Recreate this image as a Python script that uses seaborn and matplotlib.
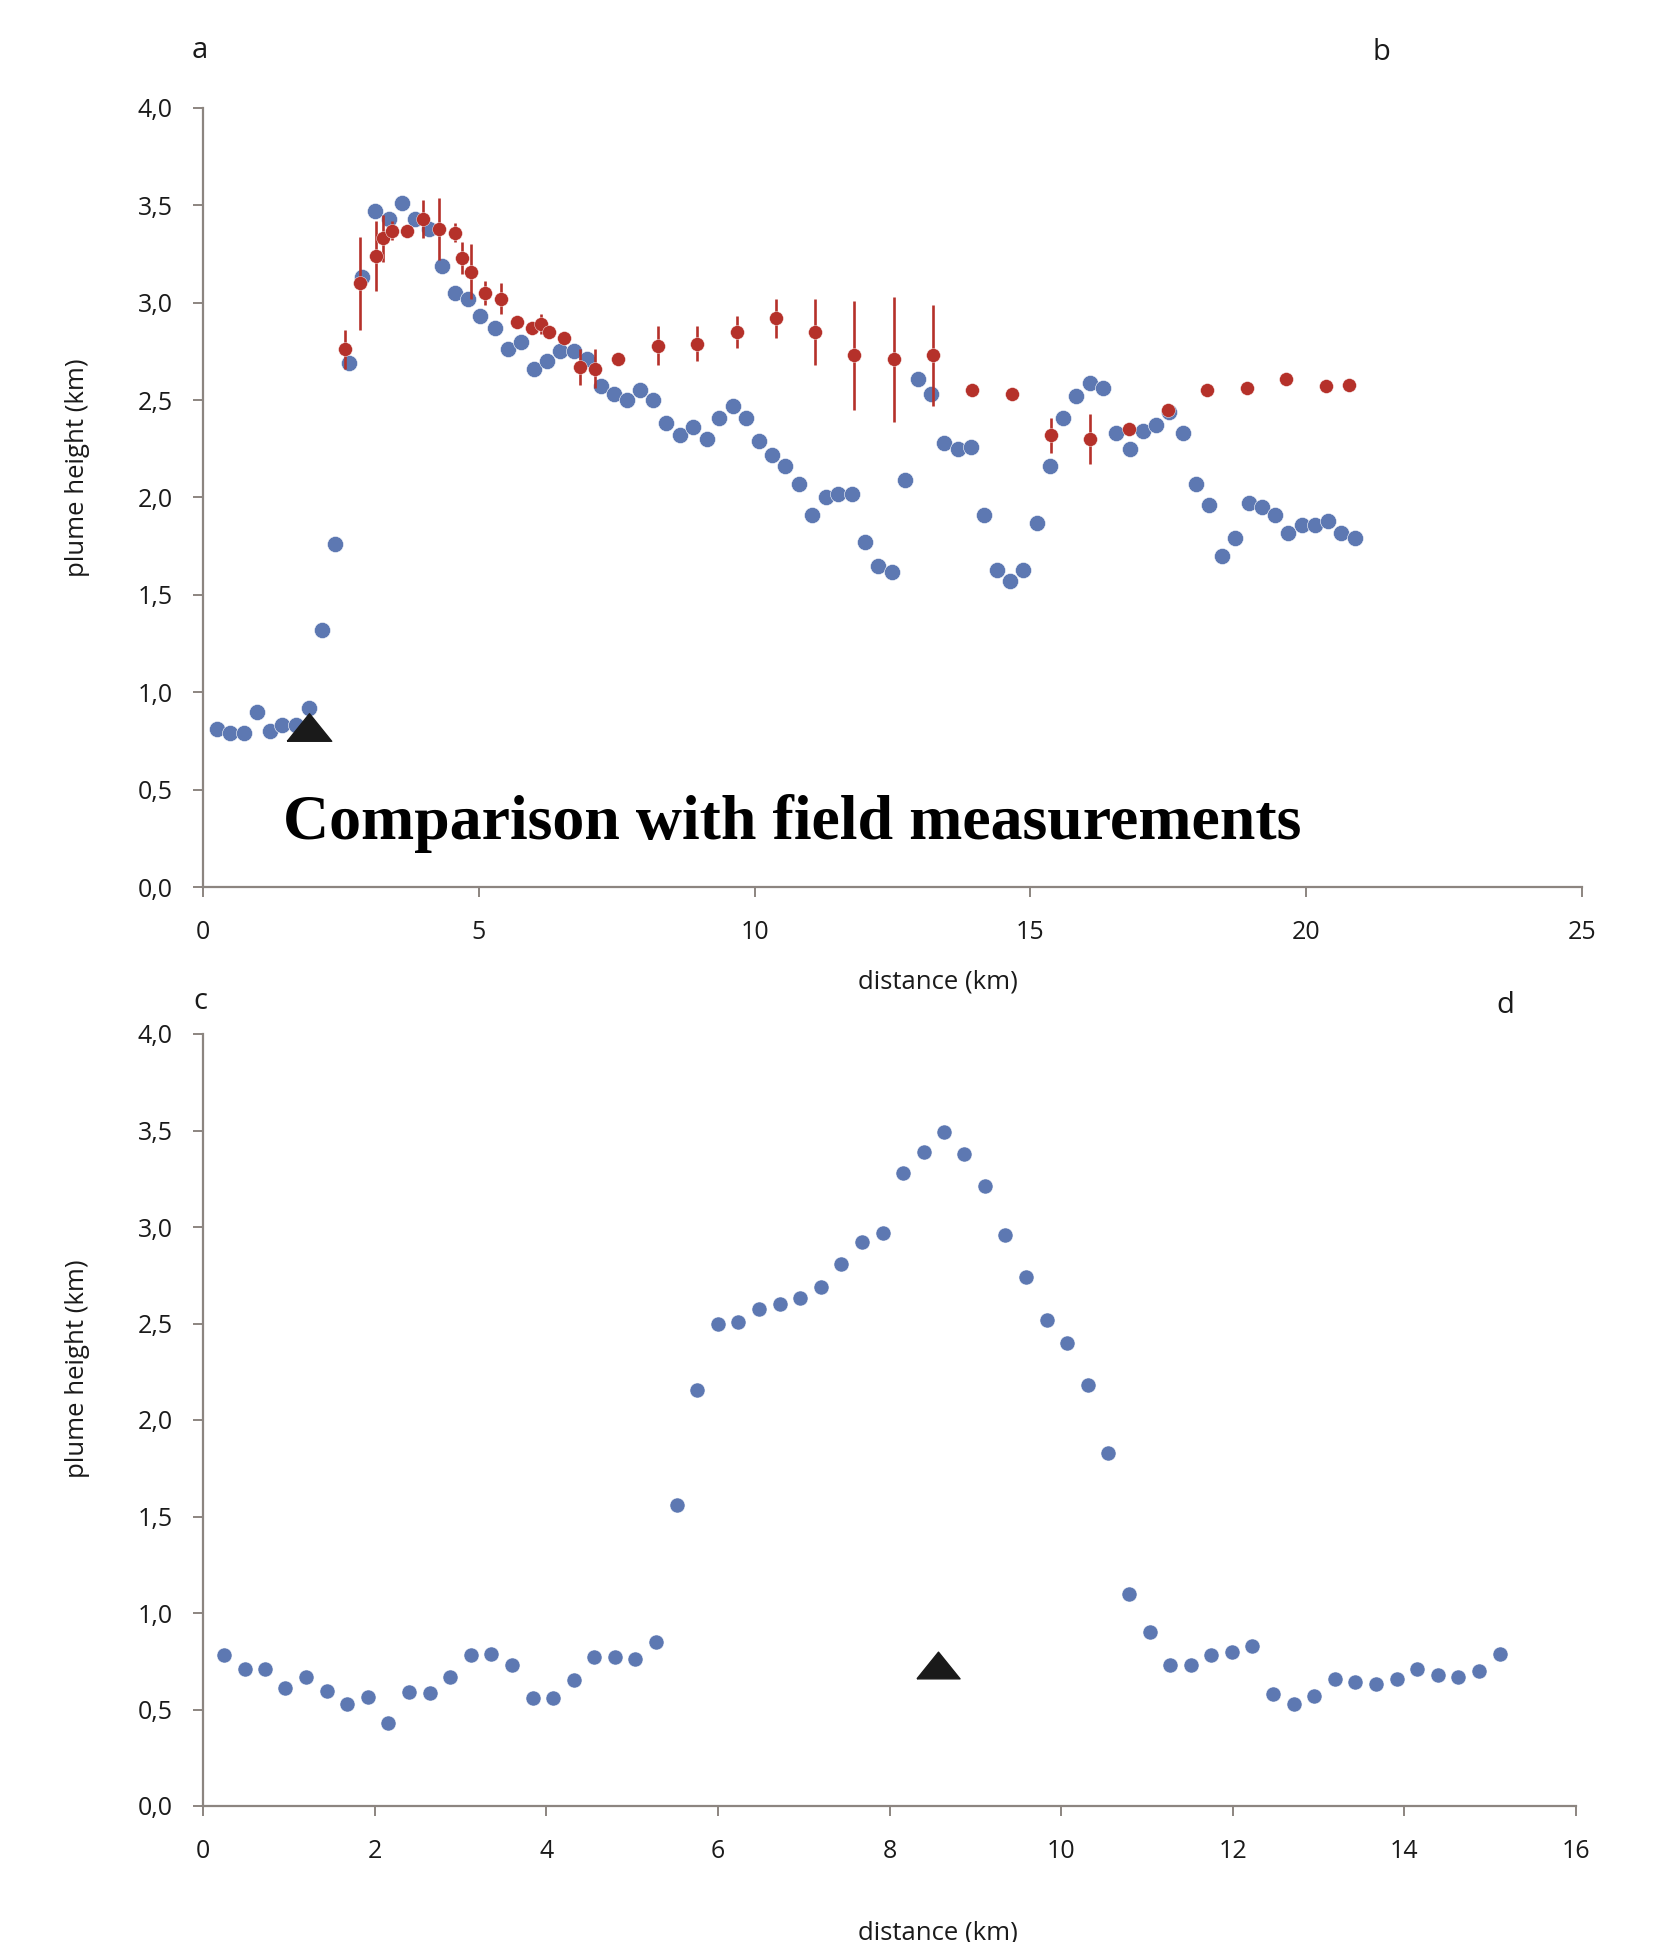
#!/usr/bin/env python3

import matplotlib.pyplot as plt
from matplotlib.ticker import FuncFormatter, MultipleLocator
import pandas as pd
import seaborn as sns

# Panel a/b: plume height along the plume (blue), field measurements (red)
dist_ab = [0.25, 0.49, 0.74, 0.97, 1.21, 1.44, 1.68, 1.93, 2.16, 2.40,
           2.65, 2.89, 3.12, 3.37, 3.60, 3.84, 4.09, 4.33, 4.56, 4.80,
           5.03, 5.29, 5.53, 5.76, 6.00, 6.23, 6.48, 6.72, 6.96, 7.21,
           7.45, 7.68, 7.92, 8.15, 8.40, 8.65, 8.89, 9.13, 9.36, 9.60,
           9.84, 10.08, 10.31, 10.56, 10.80, 11.04, 11.29, 11.52, 11.76, 12.00,
           12.24, 12.49, 12.72, 12.96, 13.20, 13.43, 13.68, 13.92, 14.15, 14.39,
           14.63, 14.87, 15.12, 15.35, 15.60, 15.83, 16.08, 16.32, 16.56, 16.80,
           17.04, 17.27, 17.51, 17.76, 18.00, 18.24, 18.47, 18.71, 18.96, 19.20,
           19.43, 19.67, 19.92, 20.16, 20.39, 20.63, 20.88]
height_ab = [0.81, 0.79, 0.79, 0.90, 0.80, 0.83, 0.83, 0.92, 1.32, 1.76,
             2.69, 3.13, 3.47, 3.43, 3.51, 3.43, 3.38, 3.19, 3.05, 3.02,
             2.93, 2.87, 2.76, 2.80, 2.66, 2.70, 2.75, 2.75, 2.71, 2.57,
             2.53, 2.50, 2.55, 2.50, 2.38, 2.32, 2.36, 2.30, 2.41, 2.47,
             2.41, 2.29, 2.22, 2.16, 2.07, 1.91, 2.00, 2.02, 2.02, 1.77,
             1.65, 1.62, 2.09, 2.61, 2.53, 2.28, 2.25, 2.26, 1.91, 1.63,
             1.57, 1.63, 1.87, 2.16, 2.41, 2.52, 2.59, 2.56, 2.33, 2.25,
             2.34, 2.37, 2.44, 2.33, 2.07, 1.96, 1.70, 1.79, 1.97, 1.95,
             1.91, 1.82, 1.86, 1.86, 1.88, 1.82, 1.79]

field_dist = [2.57, 2.85, 3.13, 3.27, 3.42, 3.69, 3.99, 4.27, 4.56, 4.70,
              4.85, 5.12, 5.41, 5.69, 5.97, 6.12, 6.27, 6.55, 6.83, 7.11,
              7.53, 8.25, 8.96, 9.68, 10.39, 11.10, 11.81, 12.52, 13.23, 13.95,
              14.66, 15.37, 16.08, 16.79, 17.50, 18.21, 18.92, 19.63, 20.35, 20.78]
field_height = [2.76, 3.10, 3.24, 3.33, 3.37, 3.37, 3.43, 3.38, 3.36, 3.23,
                3.16, 3.05, 3.02, 2.90, 2.87, 2.89, 2.85, 2.82, 2.67, 2.66,
                2.71, 2.78, 2.79, 2.85, 2.92, 2.85, 2.73, 2.71, 2.73, 2.55,
                2.53, 2.32, 2.30, 2.35, 2.45, 2.55, 2.56, 2.61, 2.57, 2.58]
field_err = [0.10, 0.24, 0.18, 0.12, 0.05, 0.00, 0.10, 0.16, 0.05, 0.08,
             0.14, 0.06, 0.08, 0.00, 0.03, 0.05, 0.02, 0.03, 0.09, 0.10,
             0.03, 0.10, 0.09, 0.08, 0.10, 0.17, 0.28, 0.32, 0.26, 0.00,
             0.00, 0.09, 0.13, 0.00, 0.00, 0.00, 0.00, 0.00, 0.00, 0.00]

# Panel c/d
dist_cd = [0.24, 0.49, 0.72, 0.96, 1.20, 1.44, 1.68, 1.92, 2.16, 2.40,
           2.64, 2.88, 3.12, 3.36, 3.60, 3.84, 4.08, 4.32, 4.56, 4.80,
           5.04, 5.28, 5.52, 5.76, 6.00, 6.24, 6.48, 6.72, 6.96, 7.20,
           7.44, 7.68, 7.92, 8.16, 8.40, 8.64, 8.87, 9.11, 9.35, 9.59,
           9.83, 10.07, 10.31, 10.55, 10.79, 11.03, 11.27, 11.51, 11.75, 11.99,
           12.23, 12.47, 12.71, 12.95, 13.19, 13.43, 13.67, 13.91, 14.15, 14.39,
           14.63, 14.87, 15.11]
height_cd = [0.78, 0.71, 0.71, 0.61, 0.67, 0.595, 0.53, 0.565, 0.43, 0.59,
             0.585, 0.67, 0.78, 0.785, 0.73, 0.56, 0.56, 0.655, 0.77, 0.77,
             0.76, 0.85, 1.56, 2.155, 2.495, 2.51, 2.575, 2.60, 2.63, 2.69,
             2.81, 2.92, 2.97, 3.28, 3.39, 3.49, 3.38, 3.21, 2.96, 2.74,
             2.52, 2.40, 2.18, 1.83, 1.10, 0.90, 0.73, 0.73, 0.78, 0.80,
             0.83, 0.58, 0.53, 0.57, 0.66, 0.64, 0.63, 0.66, 0.71, 0.68,
             0.67, 0.70, 0.79]

# vent positions (black triangles)
vent_ab_x = [1.92]
vent_ab_y = [0.82]
vent_cd_x = [8.56]
vent_cd_y = [0.73]

BLUE = "#5d78b2"
RED = "#b5312a"
AXIS_GREY = "#8c8580"
TEXT = "#1a1a1a"
FLAT_TRIANGLE = [(-1, -0.62), (1, -0.62), (0, 0.62), (-1, -0.62)]


def comma_fmt(v, pos):
    return f"{v:.1f}".replace(".", ",")


def style_axis(ax, xmax, xstep):
    ax.set_xlim(0, xmax)
    ax.set_ylim(0, 4.0)
    ax.xaxis.set_major_locator(MultipleLocator(xstep))
    ax.yaxis.set_major_locator(MultipleLocator(0.5))
    ax.yaxis.set_major_formatter(FuncFormatter(comma_fmt))
    for side in ("top", "right"):
        ax.spines[side].set_visible(False)
    for side in ("left", "bottom"):
        ax.spines[side].set_color(AXIS_GREY)
        ax.spines[side].set_linewidth(1.6)
    ax.tick_params(axis="both", direction="out", length=7, width=1.4,
                   color=AXIS_GREY, labelcolor=TEXT, labelsize=18)
    ax.tick_params(axis="x", pad=17)
    ax.tick_params(axis="y", pad=15)
    ax.set_xlabel("")
    ax.set_ylabel("")
    ax.set_facecolor("white")


def main():
    sns.set_style("ticks")
    plt.rcParams["font.family"] = ["Open Sans", "DejaVu Sans"]

    fig = plt.figure(figsize=(16.6, 19.42), dpi=100)
    W, H = 1660, 1942
    ax1 = fig.add_axes([203 / W, 1 - 887 / H, (1582 - 203) / W, (887 - 108) / H])
    ax2 = fig.add_axes([203 / W, 1 - 1806 / H, (1576 - 203) / W, (1806 - 1034) / H])

    df_ab = pd.DataFrame({"distance": dist_ab, "height": height_ab})
    df_cd = pd.DataFrame({"distance": dist_cd, "height": height_cd})

    sns.scatterplot(data=df_ab, x="distance", y="height", ax=ax1,
                    color=BLUE, s=135, edgecolor="white", linewidth=0.4,
                    zorder=2)
    ax1.errorbar(field_dist, field_height, yerr=field_err, fmt="o",
                 color=RED, ecolor=RED, markersize=10, elinewidth=1.9,
                 capsize=0, markeredgecolor="white", markeredgewidth=0.3,
                 zorder=3)
    ax1.plot(vent_ab_x, vent_ab_y, linestyle="none", marker=FLAT_TRIANGLE,
             markersize=32, color=TEXT, zorder=4)
    style_axis(ax1, 25, 5)

    sns.scatterplot(data=df_cd, x="distance", y="height", ax=ax2,
                    color=BLUE, s=118, edgecolor="white", linewidth=0.4,
                    zorder=2)
    ax2.plot(vent_cd_x, vent_cd_y, linestyle="none", marker=FLAT_TRIANGLE,
             markersize=31, color=TEXT, zorder=4)
    style_axis(ax2, 16, 2)

    # axis labels placed in figure pixels
    for yc in (468, 1369):
        fig.text(78 / W, 1 - yc / H, "plume height (km)", rotation=90,
                 ha="center", va="center", fontsize=18.5, color=TEXT)
    fig.text(938 / W, 1 - 982 / H, "distance (km)", ha="center",
             va="center", fontsize=18.5, color=TEXT)
    fig.text(938 / W, 1 - 1933 / H, "distance (km)", ha="center",
             va="center", fontsize=18.5, color=TEXT)

    # panel letters
    for (px, py, s) in ((200, 50, "a"), (1381, 52, "b"),
                        (200, 1001, "c"), (1505, 1005, "d")):
        fig.text(px / W, 1 - py / H, s, ha="center", va="center",
                 fontsize=21, color=TEXT)

    fig.text(792 / W, 1 - 823 / H, "Comparison with field measurements",
             ha="center", va="center", fontsize=46, fontweight="bold",
             family=["Liberation Serif", "DejaVu Serif"], color="black")

    fig.savefig("out.png", dpi=100, facecolor="white")


if __name__ == "__main__":
    main()
